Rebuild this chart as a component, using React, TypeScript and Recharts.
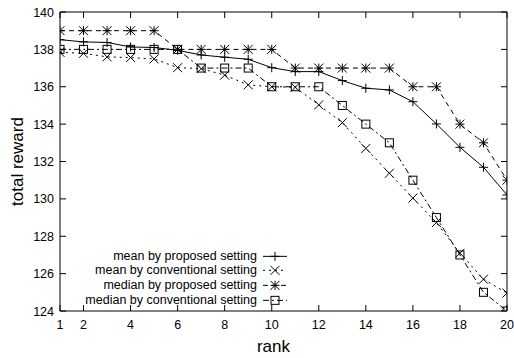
import React from 'react';
import { LineChart, Line, XAxis, YAxis, Legend } from 'recharts';

const ranks = [1, 2, 3, 4, 5, 6, 7, 8, 9, 10, 11, 12, 13, 14, 15, 16, 17, 18, 19, 20];
const meanProposed = [138.52, 138.4, 138.37, 138.13, 138.1, 137.95, 137.7, 137.58, 137.47, 137.02, 136.81, 136.81, 136.33, 135.92, 135.83, 135.2, 134.01, 132.76, 131.69, 130.21];
const meanConventional = [137.84, 137.79, 137.6, 137.56, 137.49, 137.02, 136.97, 136.62, 136.1, 136.0, 135.97, 135.03, 134.08, 132.7, 131.37, 130.04, 128.73, 127.09, 125.7, 124.96];
const medianProposed = [139, 139, 139, 139, 139, 138, 138, 138, 138, 138, 137, 137, 137, 137, 137, 136, 136, 134, 133, 131];
const medianConventional = [138, 138, 138, 138, 138, 138, 137, 137, 137, 136, 136, 136, 135, 134, 133, 131, 129, 127, 125, 124];

const seriesNames = [
  'mean by proposed setting',
  'mean by conventional setting',
  'median by proposed setting',
  'median by conventional setting',
];
const xTicks = [1, 2, 4, 6, 8, 10, 12, 14, 16, 18, 20];
const yTicks = [124, 126, 128, 130, 132, 134, 136, 138, 140];

const data = ranks.map((rank, i) => ({
  rank,
  meanProposed: meanProposed[i],
  meanConventional: meanConventional[i],
  medianProposed: medianProposed[i],
  medianConventional: medianConventional[i],
}));

// line style + point type per series (gnuplot look)
const styles = [
  { key: 'meanProposed', dash: undefined, shape: 'plus' },
  { key: 'meanConventional', dash: '2 4', shape: 'cross' },
  { key: 'medianProposed', dash: '5 4', shape: 'star' },
  { key: 'medianConventional', dash: '6 3 2 3', shape: 'square' },
];

const FONT = '"Liberation Sans", Arial, Helvetica, sans-serif';
const TICK_LEN = 6;

const Marker = ({ shape, cx, cy }: { shape: string; cx: number; cy: number }) => {
  const r = 4.5;
  const plus = `M${cx - r},${cy}H${cx + r}M${cx},${cy - r}V${cy + r}`;
  const cross = `M${cx - r},${cy - r}L${cx + r},${cy + r}M${cx - r},${cy + r}L${cx + r},${cy - r}`;
  if (shape === 'square') {
    return <rect x={cx - 4} y={cy - 4} width={8} height={8} fill="none" stroke="#000" strokeWidth={1} />;
  }
  const d = shape === 'plus' ? plus : shape === 'cross' ? cross : plus + cross;
  return <path d={d} fill="none" stroke="#000" strokeWidth={1} />;
};

const BottomTick = (props: any) => {
  const { x, y, payload } = props;
  return (
    <g>
      <line x1={x} y1={y} x2={x} y2={y - TICK_LEN} stroke="#000" />
      <text x={x} y={y + 18} textAnchor="middle" fontSize={12.5} fill="#000" fontFamily={FONT}>
        {payload.value}
      </text>
    </g>
  );
};

const TopTick = (props: any) => {
  const { x, y } = props;
  return <line x1={x} y1={y} x2={x} y2={y + TICK_LEN} stroke="#000" />;
};

const LeftTick = (props: any) => {
  const { x, y, payload } = props;
  return (
    <g>
      <line x1={x} y1={y} x2={x + TICK_LEN} y2={y} stroke="#000" />
      <text x={x - 6} y={y + 4.5} textAnchor="end" fontSize={12.5} fill="#000" fontFamily={FONT}>
        {payload.value}
      </text>
    </g>
  );
};

const RightTick = (props: any) => {
  const { x, y } = props;
  return <line x1={x} y1={y} x2={x - TICK_LEN} y2={y} stroke="#000" />;
};

const renderLegend = () => (
  <div style={{ fontFamily: FONT, fontSize: 12.5, color: '#000' }}>
    {styles.map((s, i) => (
      <div key={s.key} style={{ display: 'flex', alignItems: 'center', height: 14.7 }}>
        <span style={{ width: 257, textAlign: 'right', whiteSpace: 'nowrap', lineHeight: '14.7px' }}>
          {seriesNames[i]}
        </span>
        <svg width={30} height={14.7} style={{ marginLeft: 3, overflow: 'visible' }}>
          <line x1={3} y1={7.35} x2={27} y2={7.35} stroke="#000" strokeDasharray={s.dash} />
          <Marker shape={s.shape} cx={15} cy={7.35} />
        </svg>
      </div>
    ))}
  </div>
);

export default function App() {
  return (
    <div style={{ position: 'absolute', left: 0, top: 0, background: '#fff', fontFamily: FONT }}>
      <LineChart width={514} height={358} data={data} margin={{ top: 0, right: 0, bottom: 0, left: 0 }}>
        <XAxis
          dataKey="rank"
          type="number"
          domain={[1, 20]}
          allowDataOverflow
          ticks={xTicks}
          interval={0}
          height={47}
          axisLine={{ stroke: '#000' }}
          tickLine={false}
          tickSize={0}
          tickMargin={0}
          tick={BottomTick}
          label={{ value: 'rank', position: 'insideBottom', offset: 6, dx: -10, fill: '#000', fontSize: 17, fontFamily: FONT }}
        />
        <XAxis
          xAxisId="top"
          orientation="top"
          dataKey="rank"
          type="number"
          domain={[1, 20]}
          allowDataOverflow
          ticks={xTicks}
          interval={0}
          height={12}
          axisLine={{ stroke: '#000' }}
          tickLine={false}
          tickSize={0}
          tickMargin={0}
          tick={TopTick}
        />
        <YAxis
          type="number"
          domain={[124, 140]}
          allowDataOverflow
          ticks={yTicks}
          interval={0}
          width={60}
          axisLine={{ stroke: '#000' }}
          tickLine={false}
          tickSize={0}
          tickMargin={0}
          tick={LeftTick}
          label={{ value: 'total reward', angle: -90, position: 'insideLeft', offset: 17, fill: '#000', fontSize: 17, fontFamily: FONT, style: { textAnchor: 'middle' } }}
        />
        <YAxis
          yAxisId="right"
          orientation="right"
          type="number"
          domain={[124, 140]}
          allowDataOverflow
          ticks={yTicks}
          interval={0}
          width={7}
          axisLine={{ stroke: '#000' }}
          tickLine={false}
          tickSize={0}
          tickMargin={0}
          tick={RightTick}
        />
        <Legend
          layout="vertical"
          align="center"
          verticalAlign="middle"
          wrapperStyle={{ left: 0, top: 248.6, width: 300 }}
          content={renderLegend}
        />
        {styles.map((s) => (
          <Line
            key={s.key}
            type="linear"
            dataKey={s.key}
            stroke="#000"
            strokeWidth={1}
            strokeDasharray={s.dash}
            isAnimationActive={false}
            activeDot={false}
            dot={(p: any) => <Marker key={`${s.key}-${p.index}`} shape={s.shape} cx={p.cx} cy={p.cy} />}
          />
        ))}
      </LineChart>
    </div>
  );
}
